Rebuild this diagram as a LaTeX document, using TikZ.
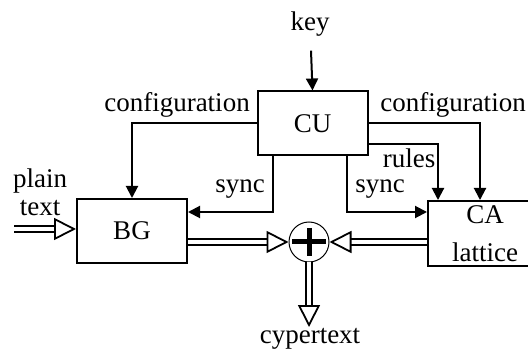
\documentclass[tikz,border=0pt]{standalone}
\usepackage{fontspec}
\setmainfont{Liberation Serif}
\usetikzlibrary{positioning, arrows.meta, calc}

\begin{document}
\begin{tikzpicture}[
    x=0.5pt, y=-0.5pt,
    font=\fontsize{13.5}{15}\selectfont,
    block/.style={
        draw, line width=1pt, minimum width=55pt, minimum height=32pt,
        align=center, inner sep=0pt
    },
    ctrl/.style={-{Triangle[length=6pt, width=6pt]}, line width=1pt},
    dataflow/.style={double, line width=0.9pt, double distance=2.2pt,
        -{Triangle[open, length=11pt, width=11pt]}},
    lbl/.style={inner sep=1pt},
]
\useasboundingbox (0,0) rectangle (528,351);

% Blocks
\node[block] (cu) at (312.5,123.5) {CU};
\node[block] (bg) at (132,231) {BG};
\node[block, minimum width=57pt, minimum height=32.5pt] (ca) at (485,233.5) {CA\\[4pt]lattice};

% XOR
\node[circle, draw, line width=0.5pt, minimum size=20pt, inner sep=0pt] (xor) at (309,242) {};
\draw[line width=2.5pt] ($(xor)+(-17,0)$) -- ($(xor)+(17,0)$);
\draw[line width=2.5pt] ($(xor)+(0,-14)$) -- ($(xor)+(0,14)$);

% Labels
\node[lbl] (key) at (310,24) {key};
\node[lbl] (cfgl) at (177,105) {configuration};
\node[lbl] (cfgr) at (453,105) {configuration};
\node[lbl] (rules) at (409,158) {rules};
\node[lbl] (syncl) at (240,189) {sync};
\node[lbl] (syncr) at (380,189) {sync};
\node[lbl, align=center] (plain) at (40,192) {plain\\[-1pt]text};
\node[lbl] (cyper) at (310,339) {cypertext};

\coordinate (in) at (14,229);
\coordinate (out) at (309,327);

% Control lines
\draw[ctrl, shorten <=6pt] (key) -- (cu.north);
\draw[ctrl] (cu.west) -| (bg.north);
\draw[ctrl] (cu.east) -| ($(ca.north)+(-5,0)$);
\draw[ctrl] ($(cu.east)+(0,20.5)$) -| ($(ca.north west)+(11,0)$);
\draw[ctrl] ($(cu.south west)+(16,0)$) |- ($(bg.east)+(0,-19)$);
\draw[ctrl] ($(cu.south west)+(90,0)$) |- ($(ca.west)+(0,-21.5)$);

% Data paths
\draw[dataflow] (in) -- (bg.west |- in);
\draw[dataflow] (bg.east |- xor) -- (xor.west);
\draw[dataflow] (ca.west |- xor) -- (xor.east);
\draw[dataflow] (xor.south) -- (out);

\end{tikzpicture}
\end{document}
